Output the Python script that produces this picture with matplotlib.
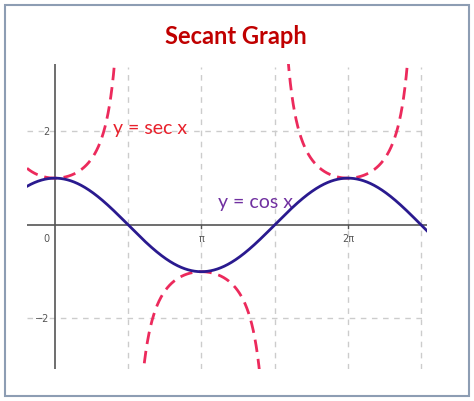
import numpy as np
import matplotlib
matplotlib.use("Agg")
import matplotlib.pyplot as plt
from matplotlib.patches import Rectangle

# graph contents
x_ticks = [0, np.pi, 2 * np.pi]
x_tick_labels = ["0", "π", "2π"]
y_ticks = [2, -2]
y_tick_labels = ["2", "−2"]
x_grid = [np.pi / 2, np.pi, 3 * np.pi / 2, 2 * np.pi, 5 * np.pi / 2]
y_grid = [2, -2]
x_range = [-0.60, 7.98]
y_range = [-3.08, 3.44]

x = np.linspace(x_range[0], x_range[1], 2000)
cos_y = np.cos(x)
sec_y = np.where(np.abs(cos_y) < 0.25, np.nan, 1 / cos_y)

plt.rcParams['font.family'] = ['Lato', 'DejaVu Sans']

fig = plt.figure(figsize=(4.74, 4.02), dpi=100)
fig.patches.append(Rectangle((5 / 474, 5 / 402), 464 / 474, 391 / 402,
                             transform=fig.transFigure, fill=False,
                             edgecolor="#8d9db3", linewidth=1.5))

ax = fig.add_axes([27 / 474, 32 / 402, 400 / 474, 305 / 402])
ax.set_xlim(*x_range)
ax.set_ylim(*y_range)
for s in ax.spines.values():
    s.set_visible(False)
ax.set_xticks([])
ax.set_yticks([])

# grid
for gx in x_grid:
    ax.axvline(gx, ymax=0.99, color="#cccccc", lw=1, ls=(0, (4, 4)), zorder=1)
for gy in y_grid:
    ax.axhline(gy, color="#cccccc", lw=1, ls=(0, (4, 4)), zorder=1)

# axes lines
ax.axhline(0, color="#555555", lw=1.2, zorder=2)
ax.axvline(0, color="#555555", lw=1.2, zorder=2)

for tx, tl in zip(x_ticks, x_tick_labels):
    if tx != 0:
        ax.plot([tx, tx], [0, -0.06], color="#555555", lw=1, zorder=2)
        ax.text(tx, -0.18, tl, ha="center", va="top", fontsize=7, color="#555555",
                family=["DejaVu Sans"])
    else:
        ax.text(-0.18, -0.18, tl, ha="center", va="top", fontsize=7, color="#555555",
                family=["DejaVu Sans"])
for ty, tl in zip(y_ticks, y_tick_labels):
    ax.text(-0.12, ty, tl, ha="right", va="center", fontsize=7, color="#555555",
            family=["DejaVu Sans"])

# curves
ax.plot(x, cos_y, color="#2a1a8f", lw=2, zorder=4)
ax.plot(x, sec_y, color="#ec2a5c", lw=2, ls=(0, (4.5, 2.5)), zorder=3)

ax.text(1.24, 2.08, "y = sec x", color="#e8212c", fontsize=14, ha="left", va="center")
ax.text(3.50, 0.50, "y = cos x", color="#7030a0", fontsize=14, ha="left", va="center")

fig.text(236 / 474, 1 - 36 / 402, "Secant Graph", color="#c00000", fontsize=17,
         fontweight="bold", ha="center", va="center")

fig.savefig("out.png", dpi=100)
